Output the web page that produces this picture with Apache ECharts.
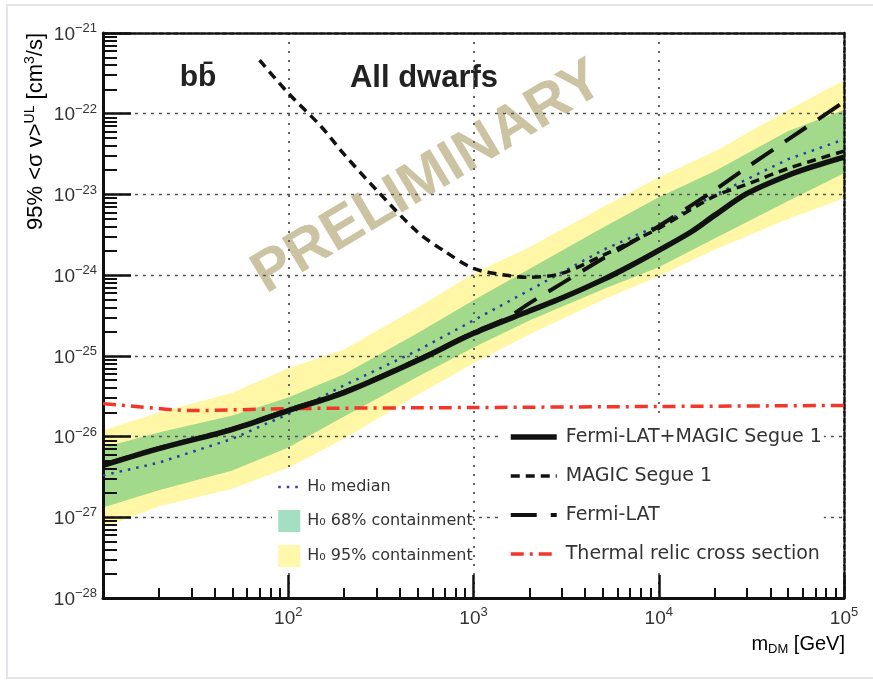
<!DOCTYPE html>
<html>
<head>
<meta charset="utf-8">
<title>bb - All dwarfs</title>
<script src="https://cdn.jsdelivr.net/npm/echarts@6.0.0/dist/echarts.min.js"></script>
<style>
  html, body { margin: 0; padding: 0; background: #fff; }
  #chart { width: 873px; height: 681px; }
</style>
</head>
<body>
<div id="chart"></div>
<script>
// dark matter mass (GeV) for the H0 expectation bands
const massGrid = [10, 20, 50, 100, 200, 500, 1000, 2000, 5000, 10000, 20000, 50000, 100000];
const band95Low = [7.4e-28, 1.36e-27, 2.26e-27, 4.1e-27, 9.4e-27, 3.3e-26, 8.1e-26, 1.84e-25, 4.97e-25, 9.7e-25, 2.06e-24, 4.97e-24, 8.97e-24];
const band95High = [1.19e-26, 1.99e-26, 3.5e-26, 7.0e-26, 1.2e-25, 3.98e-25, 1.05e-24, 2.22e-24, 7.0e-24, 1.63e-23, 3.4e-23, 1.11e-22, 2.6e-22];
const band68Low = [1.32e-27, 2.17e-27, 3.8e-27, 7.3e-27, 1.77e-26, 5.5e-26, 1.27e-25, 2.75e-25, 6.7e-25, 1.25e-24, 2.85e-24, 8.3e-24, 1.83e-23];
const band68High = [7.3e-27, 1.12e-26, 1.82e-26, 3.05e-26, 5.9e-26, 1.92e-25, 4.9e-25, 1.19e-24, 3.9e-24, 9.2e-24, 1.94e-23, 6.1e-23, 1.11e-22];
const medianH0 = [3.3e-27, 4.75e-27, 9.4e-27, 1.9e-26, 4.3e-26, 1.17e-25, 2.75e-25, 6.5e-25, 2.05e-24, 4.15e-24, 9.8e-24, 2.74e-23, 4.8e-23];

// Fermi-LAT + MAGIC combined limit
const combinedMass = [10, 20, 50, 100, 200, 500, 1000, 2000, 3000, 5000, 7000, 10000, 15000, 20000, 30000, 50000, 70000, 100000];
const combinedUL = [4.4e-27, 7.1e-27, 1.23e-26, 2.1e-26, 3.5e-26, 8.8e-26, 1.9e-25, 3.6e-25, 5.2e-25, 8.8e-25, 1.3e-24, 2.03e-24, 3.45e-24, 5.5e-24, 1.03e-23, 1.73e-23, 2.26e-23, 2.9e-23];

// MAGIC Segue 1 alone
const magicMass = [70, 100, 150, 200, 300, 500, 700, 1000, 1500, 2000, 3000, 5000, 7000, 10000, 20000, 30000, 50000, 100000];
const magicUL = [4.6e-22, 1.8e-22, 7.0e-23, 3.15e-23, 1.13e-23, 3.4e-24, 1.97e-24, 1.21e-24, 9.95e-25, 9.4e-25, 1.05e-24, 1.76e-24, 2.55e-24, 3.8e-24, 9.5e-24, 1.34e-23, 2.1e-23, 3.44e-23];

// Fermi-LAT dwarfs alone
const fermiMass = [10, 20, 50, 100, 200, 500, 1000, 1500, 2000, 3000, 5000, 7000, 10000, 20000, 30000, 50000, 100000];
const fermiUL = [4.5e-27, 7.2e-27, 1.25e-26, 2.15e-26, 3.6e-26, 9.0e-26, 1.95e-25, 2.9e-25, 4.47e-25, 7.9e-25, 1.61e-24, 2.48e-24, 4.03e-24, 1.13e-23, 2.17e-23, 4.8e-23, 1.4e-22];

// thermal relic cross section
const thermalMass = [10, 15, 30, 100, 1000, 10000, 100000];
const thermalXS = [2.56e-26, 2.36e-26, 2.1e-26, 2.22e-26, 2.29e-26, 2.36e-26, 2.43e-26];

// y range in cm^3/s, as decades
const Y_MIN_EXP = -28;
const Y_MAX_EXP = -21;

const FONT = "'Liberation Sans', Arial, Helvetica, sans-serif";
const LEGEND_FONT = "'DejaVu Sans', 'Liberation Sans', sans-serif";

// the log axis rounds values near 1e-28 to zero, so plot in units of 1e-28 cm^3/s
const Y_UNIT = Math.pow(10, Y_MIN_EXP);
const toUnit = v => v / Y_UNIT;

function pairs(xs, ys) {
  return xs.map((x, i) => [x, toUnit(ys[i])]);
}

// 2..9 x 10^e between two decades, for the small ticks
function minorValues(fromExp, toExp) {
  const out = [];
  for (let e = fromExp; e < toExp; e++) {
    for (let k = 2; k <= 9; k++) out.push(k * Math.pow(10, e));
  }
  return out;
}

function bandSeries(name, low, high, fill, legendColor) {
  return {
    type: 'custom',
    name: name,
    z: -1,
    itemStyle: { color: legendColor },
    data: [[massGrid[0], toUnit(low[0])]],
    renderItem: function (params, api) {
      const top = massGrid.map((m, i) => api.coord([m, toUnit(high[i])]));
      const bottom = massGrid.map((m, i) => api.coord([m, toUnit(low[i])])).reverse();
      return {
        type: 'polygon',
        shape: { points: top.concat(bottom) },
        style: { fill: fill }
      };
    }
  };
}

function powLabel(e) {
  return '{b|10}{e|' + String(e).replace('-', '\u2212') + '}';
}

const labelRich = {
  b: { fontSize: 19, fontFamily: FONT, color: '#333', verticalAlign: 'bottom' },
  e: { fontSize: 13, fontFamily: FONT, color: '#333', verticalAlign: 'bottom', padding: [0, 0, 9, 0] }
};

const xRange = { type: 'log', logBase: 10, min: 10, max: 100000, gridIndex: 0 };
const yRange = { type: 'log', logBase: 10, min: 1, max: Math.pow(10, Y_MAX_EXP - Y_MIN_EXP), gridIndex: 0 };

// legend line icons: hide the marker, keep the line
const noMarker = { color: 'rgba(0,0,0,0)', borderWidth: 0 };

const chart = echarts.init(document.getElementById('chart'));

const option = {
  animation: false,
  backgroundColor: '#fff',
  grid: { left: 103, right: 29, top: 33, bottom: 83, containLabel: false, outerBoundsMode: 'none' },
  xAxis: [
    Object.assign({}, xRange, {
      position: 'bottom',
      axisLine: { onZero: false, lineStyle: { color: '#111', width: 3 } },
      axisTick: { inside: true, length: 23, lineStyle: { color: '#111', width: 2.5 } },
      axisLabel: {
        margin: 8,
        showMinLabel: false,
        showMaxLabel: true,
        formatter: v => {
          const e = Math.round(Math.log10(v));
          return e === 1 ? '' : powLabel(e);
        },
        rich: labelRich
      },
      splitLine: { show: true, lineStyle: { color: '#666', width: 2, type: [2, 7] } }
    }),
    Object.assign({}, xRange, {
      position: 'bottom',
      axisLine: { show: false, onZero: false },
      axisTick: { inside: true, length: 10, customValues: minorValues(1, 5), lineStyle: { color: '#111', width: 2 } },
      axisLabel: { show: false },
      splitLine: { show: false }
    }),
    Object.assign({}, xRange, {
      position: 'top',
      axisLine: { onZero: false, lineStyle: { color: '#111', width: 2.5, type: [5, 2] } },
      axisTick: { show: false },
      axisLabel: { show: false },
      splitLine: { show: false }
    })
  ],
  yAxis: [
    Object.assign({}, yRange, {
      position: 'left',
      axisLine: { onZero: false, lineStyle: { color: '#111', width: 3 } },
      axisTick: { inside: true, length: 28, lineStyle: { color: '#111', width: 2.5 } },
      axisLabel: {
        margin: 6,
        showMinLabel: true,
        showMaxLabel: true,
        formatter: v => powLabel(Math.round(Math.log10(v)) + Y_MIN_EXP),
        rich: labelRich
      },
      splitLine: { show: true, lineStyle: { color: '#555', width: 1.3, type: [3, 5] } }
    }),
    Object.assign({}, yRange, {
      position: 'left',
      axisLine: { show: false, onZero: false },
      axisTick: { inside: true, length: 14, customValues: minorValues(0, Y_MAX_EXP - Y_MIN_EXP), lineStyle: { color: '#111', width: 2 } },
      axisLabel: { show: false },
      splitLine: { show: false }
    }),
    Object.assign({}, yRange, {
      position: 'right',
      axisLine: { onZero: false, lineStyle: { color: '#111', width: 2.5, type: [5, 2] } },
      axisTick: { show: false },
      axisLabel: { show: false },
      splitLine: { show: false }
    })
  ],
  legend: [
    {
      data: [
        { name: 'Fermi-LAT+MAGIC Segue 1', itemStyle: noMarker },
        { name: 'MAGIC Segue 1', itemStyle: noMarker },
        { name: 'Fermi-LAT', itemStyle: noMarker },
        { name: 'Thermal relic cross section', itemStyle: noMarker }
      ],
      orient: 'vertical',
      left: 502,
      top: 419,
      padding: [8, 2, 8, 6],
      backgroundColor: '#fff',
      itemWidth: 46,
      itemHeight: 14,
      itemGap: 19,
      selectedMode: false,
      lineStyle: { width: 'inherit' },
      textStyle: { fontFamily: LEGEND_FONT, fontSize: 19, color: '#333', lineHeight: 20, padding: [0, 0, 0, 4] }
    },
    {
      data: [
        { name: 'H\u2080 median', itemStyle: noMarker },
        { name: 'H\u2080 68% containment', icon: 'rect' },
        { name: 'H\u2080 95% containment', icon: 'rect' }
      ],
      orient: 'vertical',
      left: 272,
      top: 473,
      padding: [4, 0, 4, 5],
      backgroundColor: '#fff',
      itemWidth: 22,
      itemHeight: 22,
      itemGap: 13,
      selectedMode: false,
      lineStyle: { width: 'inherit' },
      textStyle: { fontFamily: LEGEND_FONT, fontSize: 16, color: '#333', lineHeight: 20, padding: [0, 0, 0, 2] }
    }
  ],
  graphic: [
    {
      type: 'rect', z: -10, silent: true,
      shape: { x: 7, y: 5, width: 880, height: 673 },
      style: { fill: null, stroke: '#e4e4ea', lineWidth: 2 }
    },
    {
      type: 'text', z: -5, x: 428, y: 178, rotation: 31 * Math.PI / 180,
      style: { text: 'PRELIMINARY', font: 'bold 58px ' + FONT, fill: '#cbc3a1', align: 'center', verticalAlign: 'middle' }
    },
    {
      type: 'text', x: 198, y: 78,
      style: { text: 'bb\u0304', font: 'bold 30px ' + FONT, fill: '#222', align: 'center', verticalAlign: 'middle' }
    },
    {
      type: 'text', x: 424, y: 78,
      style: { text: 'All dwarfs', font: 'bold 31px ' + FONT, fill: '#222', align: 'center', verticalAlign: 'middle' }
    },
    {
      type: 'text', x: 35, y: 33, rotation: Math.PI / 2,
      style: {
        text: '{a|95% <\u03c3 v>}{s|UL}{a| [cm}{s|3}{a|/s]}',
        align: 'right', verticalAlign: 'middle',
        rich: {
          a: { fontSize: 22, fontFamily: FONT, color: '#333', verticalAlign: 'bottom' },
          s: { fontSize: 14, fontFamily: FONT, color: '#333', verticalAlign: 'bottom', padding: [0, 0, 10, 0] }
        }
      }
    },
    {
      type: 'text', x: 845, y: 645,
      style: {
        text: '{a|m}{s|DM}{a| [GeV]}',
        align: 'right', verticalAlign: 'middle',
        rich: {
          a: { fontSize: 20, fontFamily: FONT, color: '#333', verticalAlign: 'top' },
          s: { fontSize: 13, fontFamily: FONT, color: '#333', verticalAlign: 'top', padding: [9, 0, 0, 0] }
        }
      }
    }
  ],
  series: [
    bandSeries('H\u2080 95% containment', band95Low, band95High, '#fff7a5', '#fff7aa'),
    bandSeries('H\u2080 68% containment', band68Low, band68High, '#a2d98b', '#a3dfc0'),
    {
      type: 'line', name: 'H\u2080 median',
      data: pairs(massGrid, medianH0),
      symbol: 'none',
      itemStyle: { color: '#2b3b9e' },
      lineStyle: { color: '#2b3b9e', width: 2.5, type: [2.5, 6] }
    },
    {
      type: 'line', name: 'Thermal relic cross section',
      data: pairs(thermalMass, thermalXS),
      symbol: 'none', smooth: 0.3,
      itemStyle: { color: '#f2362a' },
      lineStyle: { color: '#f2362a', width: 3.5, type: [13, 6, 3, 6] }
    },
    {
      type: 'line', name: 'MAGIC Segue 1',
      data: pairs(magicMass, magicUL),
      symbol: 'none', smooth: 0.3,
      itemStyle: { color: '#111' },
      lineStyle: { color: '#111', width: 3.5, type: [9, 6] }
    },
    {
      type: 'line', name: 'Fermi-LAT',
      data: pairs(fermiMass, fermiUL),
      symbol: 'none', smooth: 0.3,
      itemStyle: { color: '#111' },
      lineStyle: { color: '#111', width: 4, type: [26, 14] }
    },
    {
      type: 'line', name: 'Fermi-LAT+MAGIC Segue 1',
      data: pairs(combinedMass, combinedUL),
      symbol: 'none', smooth: 0.3,
      itemStyle: { color: '#111' },
      lineStyle: { color: '#111', width: 5.5 }
    }
  ]
};

chart.setOption(option);
</script>
</body>
</html>
